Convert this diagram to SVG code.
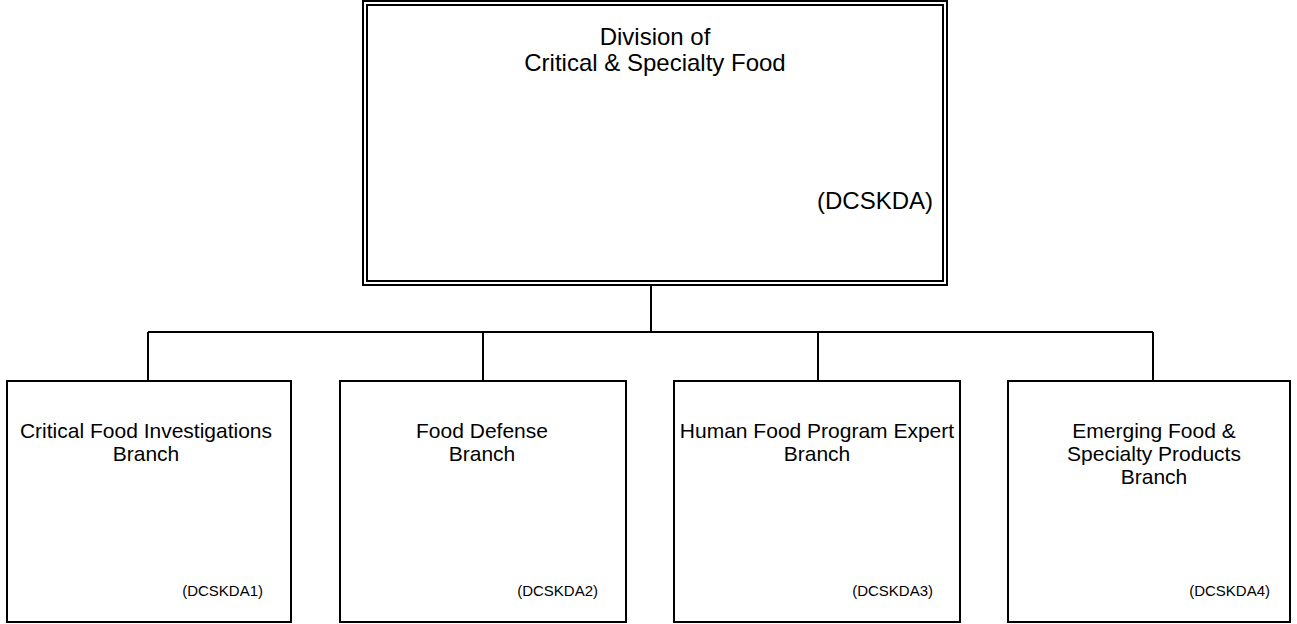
<svg xmlns="http://www.w3.org/2000/svg" width="1297" height="624" viewBox="0 0 1297 624">
<style>
.box{fill:#fff;stroke:#000;stroke-width:2}
.conn{fill:none;stroke:#000;stroke-width:2}
text{font-family:"Liberation Sans",Arial,sans-serif;fill:#000;text-anchor:middle}
.t1{font-size:24px}
.t2{font-size:21px}
.code{font-size:15px;text-anchor:end}
.code1{font-size:24px;text-anchor:end}
</style>
<rect width="1297" height="624" fill="#fff"/>
<g id="connectors">
<path class="conn" d="M651 286V332M148 332H1153M148 332V380M483 332V380M818 332V380M1153 332V380"/>
</g>
<g id="division">
<rect class="box" x="363" y="1" width="584" height="284"/>
<rect class="box" x="367" y="5" width="576" height="276"/>
<text class="t1" x="655" y="45">Division of</text>
<text class="t1" x="655" y="71">Critical &amp; Specialty Food</text>
<text class="code1" x="933" y="209">(DCSKDA)</text>
</g>
<g id="branch1">
<rect class="box" x="7" y="381" width="284" height="241"/>
<text class="t2" x="146" y="438">Critical Food Investigations</text>
<text class="t2" x="146" y="461">Branch</text>
<text class="code" x="263" y="596">(DCSKDA1)</text>
</g>
<g id="branch2">
<rect class="box" x="340" y="381" width="286" height="241"/>
<text class="t2" x="482" y="438">Food Defense</text>
<text class="t2" x="482" y="461">Branch</text>
<text class="code" x="598" y="596">(DCSKDA2)</text>
</g>
<g id="branch3">
<rect class="box" x="674" y="381" width="286" height="241"/>
<text class="t2" x="817" y="438">Human Food Program Expert</text>
<text class="t2" x="817" y="461">Branch</text>
<text class="code" x="933" y="596">(DCSKDA3)</text>
</g>
<g id="branch4">
<rect class="box" x="1008" y="381" width="282" height="241"/>
<text class="t2" x="1154" y="438">Emerging Food &amp;</text>
<text class="t2" x="1154" y="461">Specialty Products</text>
<text class="t2" x="1154" y="484">Branch</text>
<text class="code" x="1270" y="596">(DCSKDA4)</text>
</g>
</svg>
